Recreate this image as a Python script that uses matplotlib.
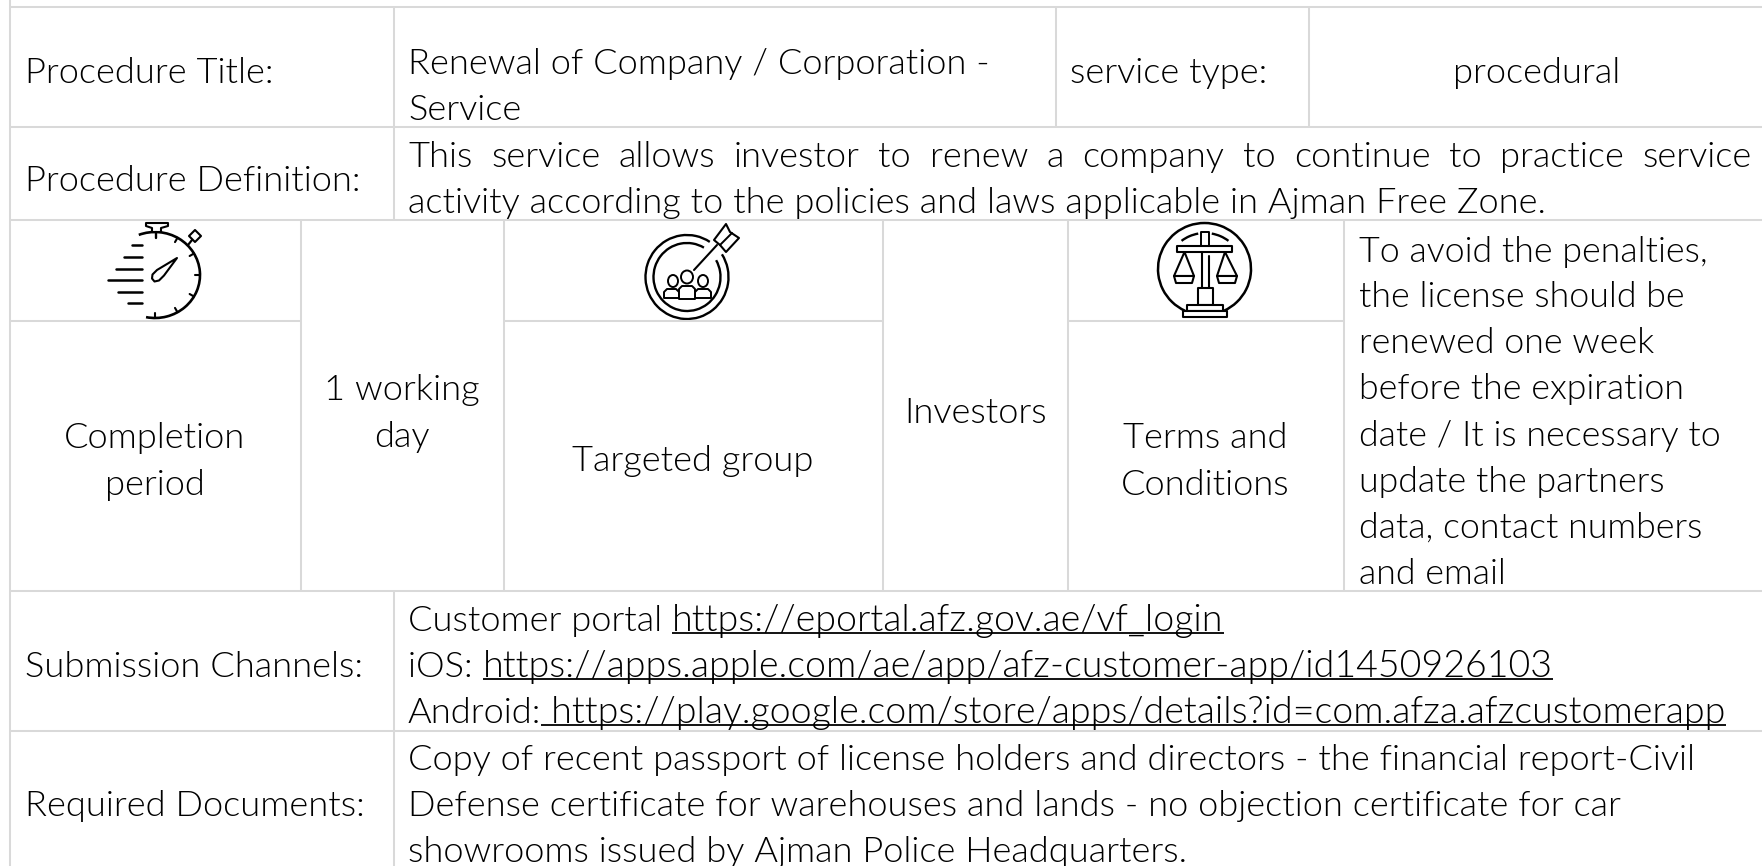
import numpy as np
import matplotlib
matplotlib.use("Agg")
import matplotlib.pyplot as plt
from matplotlib.patches import Arc, Ellipse, Polygon, Rectangle

W, H = 1762, 866
GRID = "#d9d9d9"
INK = "#000000"
FONT = "Lato"
WEIGHT = 300
SIZE = 26.1

# ---- table structure (full-width rules and the cell dividers of each row) ----
row_edges = [7, 127, 220, 591, 731]
left_edge = 10
row_dividers = [
    (7, 127, [394, 1056, 1309]),
    (127, 220, [394]),
    (220, 591, [301, 504, 883, 1068, 1344]),
    (591, 731, [394]),
    (731, 866, [394]),
]
partial_rules = [(321, 10, 301), (321, 504, 883), (321, 1068, 1344)]

# ---- text content ----
labels = ["Procedure Title:", "Procedure Definition:", "Submission Channels:", "Required Documents:"]
label_y = [70, 178, 664, 803]
title_lines = ["Renewal of Company / Corporation -", "Service"]
service_type = ["service type:", "procedural"]
definition_first = "This service allows investor to renew a company to continue to practice service"
definition_second = "activity according to the policies and laws applicable in Ajman Free Zone."
centered = [
    ("Completion", 155, 435), ("period", 155, 482),
    ("1 working", 402, 387), ("day", 402, 434),
    ("Targeted group", 693, 458),
    ("Investors", 976, 410),
    ("Terms and", 1205, 435), ("Conditions", 1205, 482),
]
terms = ["To avoid the penalties,", "the license should be", "renewed one week", "before the expiration",
         "date / It is necessary to", "update the partners", "data, contact numbers", "and email"]
terms_y = [249, 294, 340, 386, 433, 479, 525, 571]
channels = [("Customer portal ", "https://eportal.afz.gov.ae/vf_login"),
            ("iOS: ", "https://apps.apple.com/ae/app/afz-customer-app/id1450926103"),
            ("Android:", " https://play.google.com/store/apps/details?id=com.afza.afzcustomerapp")]
channels_y = [618, 664, 710]
documents = ["Copy of recent passport of license holders and directors - the financial report-Civil",
             "Defense certificate for warehouses and lands - no objection certificate for car",
             "showrooms issued by Ajman Police Headquarters."]
documents_y = [757, 803, 849]

fig = plt.figure(figsize=(W / 100, H / 100), dpi=100)
ax = fig.add_axes([0, 0, 1, 1])
ax.set_xlim(0, W)
ax.set_ylim(H, 0)
ax.axis("off")
rend = fig.canvas.get_renderer()
LW = 1.45
LINK = 1.035


def put(s, x, y, ha="left", size=SIZE):
    return ax.text(x, y, s, ha=ha, va="center_baseline", fontsize=size, family=FONT,
                   weight=WEIGHT, color=INK)


def width(s, size=SIZE):
    t = ax.text(0, 0, s.replace(" ", "\u00a0"), fontsize=size, family=FONT, weight=WEIGHT)
    w = t.get_window_extent(rend).width
    t.remove()
    return w


# grid
for y in row_edges:
    ax.plot([left_edge, W], [y, y], color=GRID, lw=LW, solid_capstyle="butt")
ax.plot([left_edge, left_edge], [0, 7], color=GRID, lw=LW, solid_capstyle="butt")
for y0, y1, xs in row_dividers:
    for x in [left_edge] + xs:
        ax.plot([x, x], [y0, y1], color=GRID, lw=LW, solid_capstyle="butt")
for y, x0, x1 in partial_rules:
    ax.plot([x0, x1], [y, y], color=GRID, lw=LW, solid_capstyle="butt")

# text
for s, y in zip(labels, label_y):
    put(s, 25, y)
put(title_lines[0], 408, 61)
put(title_lines[1], 408, 107)
put(service_type[0], 1070, 70)
put(service_type[1], 1537, 70, ha="center")

words = definition_first.split()
gap = (1752 - 408 - sum(width(w) for w in words)) / (len(words) - 1)
x = 408
for w in words:
    put(w, x, 154)
    x += width(w) + gap
put(definition_second, 408, 200)

for s, x, y in centered:
    put(s, x, y, ha="center")
for s, y in zip(terms, terms_y):
    put(s, 1359, y, size=SIZE * 0.985)
for (plain, link), y in zip(channels, channels_y):
    put(plain, 408, y)
    x0 = 408 + width(plain)
    put(link, x0, y, size=SIZE * LINK)
    ax.plot([x0, x0 + width(link, SIZE * LINK)], [y + 15, y + 15], color=INK, lw=1.3, solid_capstyle="butt")
for s, y in zip(documents, documents_y):
    put(s, 408, y)


# ---- icons ----
def line(xs, ys, lw=2.0):
    ax.plot(xs, ys, color="black", lw=lw, solid_capstyle="round", solid_joinstyle="round")


def shape(pts, lw=1.5, z=2):
    ax.add_patch(Polygon(pts, fc="white", ec="black", lw=lw, zorder=z, joinstyle="round"))


# stopwatch
cx, cy, rx, ry = 155, 275, 45, 43
ax.add_patch(Arc((cx, cy), 2 * rx, 2 * ry, theta1=-112, theta2=102, color="black", lw=1.9))
shape([(146, 223), (168, 223), (168, 226), (161, 228), (161, 232), (152, 232), (152, 228), (146, 226)])
line([156, 156], [232, 238], 1.7)
shape([(195, 230), (201, 236), (195, 242), (189, 236)])
line([188, 192], [245, 240], 1.6)
for a in [-60, -30, 0, 30, 60, 90]:
    c, s = np.cos(np.radians(a)), np.sin(np.radians(a))
    line([cx + (rx - 5) * c, cx + rx * c], [cy + (ry - 5) * s, cy + ry * s], 1.5)
for yy, xx in zip([245, 257, 269, 280, 292, 303], [132, 124, 116, 108, 118, 128]):
    line([xx, 142], [yy, yy], 1.8)
shape([(177, 258), (164, 275.5), (159, 280.5), (154.5, 281.5), (152, 278.5), (152.5, 274.5), (157, 270)])

# target
ax.add_patch(Arc((687, 277), 83, 84, theta1=-33, theta2=303, color="black", lw=1.7))
ax.add_patch(Arc((687, 277), 67, 68, theta1=-30, theta2=300, color="black", lw=1.7))
line([694, 717], [270, 245], 1.5)
shape([(714, 240), (726, 224), (730, 232), (739, 238), (726, 252), (720, 245)])
line([720, 732], [245, 233], 1.4)
for hx, hy, hw, hh, x0, x1, y0, y1 in [(673, 281, 10, 12, 664, 679, 289, 298),
                                       (703, 281, 10, 12, 695, 711, 289, 298),
                                       (687, 277, 12, 13, 679, 695, 286, 299)]:
    ax.add_patch(Ellipse((hx, hy), hw, hh, fc="white", ec="black", lw=1.4, zorder=3))
    shape([(x0, y1), (x0, y0 + 3), (x0 + 3, y0), (x1 - 3, y0), (x1, y0 + 3), (x1, y1)], 1.4, 3)

# scales
ax.add_patch(Arc((1204.5, 269), 93, 92, theta1=115, theta2=65, color="black", lw=1.8))
ax.add_patch(Arc((1205, 272), 78, 78, theta1=233, theta2=260, color="black", lw=1.7))
ax.add_patch(Arc((1205, 272), 78, 78, theta1=280, theta2=307, color="black", lw=1.7))
shape([(1201, 232), (1209, 232), (1209, 246), (1201, 246)], 1.4)
shape([(1177, 246), (1232, 246), (1232, 252), (1177, 252)], 1.5)
line([1202, 1202], [252, 288], 1.5)
line([1209, 1209], [256, 288], 1.5)
shape([(1198, 288), (1213, 288), (1213, 305), (1198, 305)], 1.5)
shape([(1187, 305), (1223, 305), (1223, 311), (1187, 311)], 1.5)
shape([(1183, 311), (1227, 311), (1227, 317), (1183, 317)], 1.5)
for ap, x0, x1 in [(1184.5, 1174, 1194), (1225, 1217, 1237)]:
    shape([(ap, 252), (x0, 276), (x1, 276)], 1.5)
    shape([(x0, 276), (x1, 276), (x1 - 2, 283), (x0 + 2, 283)], 1.5)

fig.savefig("out.png", dpi=100)
